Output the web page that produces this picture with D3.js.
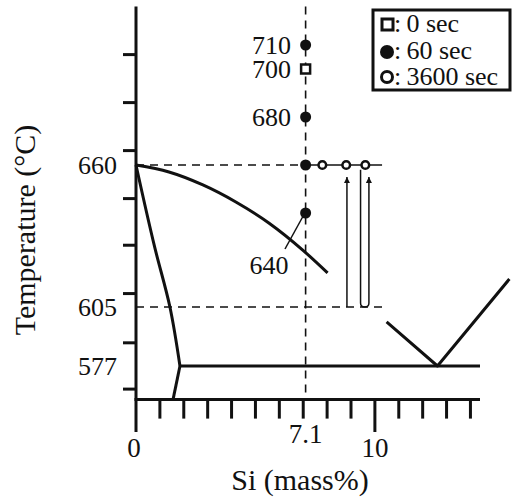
<!DOCTYPE html>
<meta charset="utf-8">
<script src="https://cdn.jsdelivr.net/npm/d3@7"></script>
<body style="margin:0;background:#fff">
<script>

// chart values
var xTicks = [0, 1, 2, 3, 4, 5, 6, 7, 8, 9, 10, 11, 12, 13, 14];
var xLongTicks = [0, 10];
var xLabels = [0, 7.1, 10];
var yTicks = [566, 588, 610, 628, 646, 666, 686, 706];
var alloySi = 7.1;
var liquidusAl = [[0, 660], [1.38, 657.1], [2.8, 651.7], [4.18, 644.6], [5.56, 636.3], [6.98, 626.2], [8.02, 617.7]];
var solidusAl = [[0, 660], [0.79, 627], [1.42, 605], [1.84, 577]];
var solvusAl = [[1.84, 577], [1.55, 561]];
var liquidusSi = [[10.49, 597.9], [12.62, 577], [15.63, 615.4]];
var eutectic = [[1.84, 577], [14.4, 577]];
var temps0 = [700];
var temps60 = [710, 680, 660, 640];
var si3600 = [7.8, 8.8, 9.6];   // shown at 660
var arrowUp = [8.83];
var arrowLoop = [9.4, 9.75];
var guide660 = [0, 7.1];
var guide605 = [0, 10.3];
var legendItems = ["0 sec", "60 sec", "3600 sec"];

var svg = d3.select("body").append("svg")
    .attr("width", 513)
    .attr("height", 498)
    .style("font-family", "'Liberation Serif','Times New Roman',serif");

var x = d3.scaleLinear().domain([0, 14.4]).range([136, 480]);
// schematic temperature axis (not to scale)
var y = d3.scaleLinear().domain([561, 577, 605, 640, 726]).range([399.6, 366, 307, 213, 6.6]);

var line = d3.line().x(function(d) { return x(d[0]); }).y(function(d) { return y(d[1]); });

svg.append("defs").append("marker")
    .attr("id", "arr").attr("viewBox", "0 0 10 10")
    .attr("refX", 10).attr("refY", 5)
    .attr("markerWidth", 10).attr("markerHeight", 6)
    .attr("markerUnits", "userSpaceOnUse")
    .attr("orient", "auto")
    .append("path").attr("d", "M0,0L10,5L0,10Z").attr("fill", "#111");

// dashed guides
var dash = svg.append("g").attr("stroke", "#111").attr("stroke-width", 1.6).attr("stroke-dasharray", "8,6").attr("fill", "none");
dash.append("line").attr("x1", x(alloySi)).attr("x2", x(alloySi)).attr("y1", y(726)).attr("y2", y(561));
dash.append("line").attr("x1", x(guide660[0])).attr("x2", x(guide660[1])).attr("y1", y(660)).attr("y2", y(660));
dash.append("line").attr("x1", x(guide605[0])).attr("x2", x(guide605[1])).attr("y1", y(605)).attr("y2", y(605));

// phase boundaries
var thick = svg.append("g").attr("stroke", "#111").attr("stroke-width", 3).attr("fill", "none").attr("stroke-linejoin", "round");
thick.append("path").attr("d", line.curve(d3.curveMonotoneX)(liquidusAl));
thick.append("path").attr("d", d3.line().x(function(d) { return x(d[0]); }).y(function(d) { return y(d[1]); }).curve(d3.curveMonotoneY)(solidusAl));
line.curve(d3.curveLinear);
thick.append("path").attr("d", line(solvusAl));
thick.append("path").attr("d", line(liquidusSi));
thick.append("path").attr("d", line(eutectic));

// axes
var ax = svg.append("g").attr("stroke", "#111").attr("stroke-width", 3);
ax.append("line").attr("x1", x(0)).attr("x2", x(0)).attr("y1", y(726)).attr("y2", 432);
ax.append("line").attr("x1", x(0) - 1.5).attr("x2", x(14.4)).attr("y1", y(561)).attr("y2", y(561));
ax.selectAll(".yt").data(yTicks).enter().append("line")
    .attr("x1", x(0) - 13).attr("x2", x(0)).attr("y1", y).attr("y2", y);
ax.selectAll(".xt").data(xTicks.filter(function(d) { return xLongTicks.indexOf(d) < 0; })).enter().append("line")
    .attr("x1", x).attr("x2", x).attr("y1", y(561)).attr("y2", y(561) + 19);
ax.selectAll(".xl").data(xLongTicks.slice(1)).enter().append("line")
    .attr("x1", x).attr("x2", x).attr("y1", y(561)).attr("y2", 432);

// 3600 s connector, arrows
var thin = svg.append("g").attr("stroke", "#111").attr("stroke-width", 1.5).attr("fill", "none");
thin.append("line").attr("x1", x(alloySi)).attr("x2", x(10.3)).attr("y1", y(660)).attr("y2", y(660));
arrowUp.forEach(function(s) {
  thin.append("line").attr("x1", x(s)).attr("x2", x(s)).attr("y1", y(605)).attr("y2", y(655))
      .attr("marker-end", "url(#arr)");
});
thin.append("path")
    .attr("d", "M" + x(arrowLoop[0]) + "," + y(658) + "V" + (y(605) - 4) +
         "Q" + x(arrowLoop[0]) + "," + y(605) + " " + ((x(arrowLoop[0]) + x(arrowLoop[1])) / 2) + "," + y(605) +
         "Q" + x(arrowLoop[1]) + "," + y(605) + " " + x(arrowLoop[1]) + "," + (y(605) - 4) +
         "V" + y(655))
    .attr("marker-end", "url(#arr)");
// leader to 640 label
thin.append("line").attr("x1", x(alloySi) - 3).attr("y1", y(640) + 4).attr("x2", 285).attr("y2", 249);

// markers
svg.selectAll(".p60").data(temps60).enter().append("circle")
    .attr("cx", x(alloySi)).attr("cy", y).attr("r", 5.5).attr("fill", "#111");
svg.selectAll(".p0").data(temps0).enter().append("rect")
    .attr("x", x(alloySi) - 4.5).attr("y", function(d) { return y(d) - 4.5; })
    .attr("width", 9).attr("height", 9).attr("fill", "#fff").attr("stroke", "#111").attr("stroke-width", 2.5);
svg.selectAll(".p3600").data(si3600).enter().append("circle")
    .attr("cx", x).attr("cy", y(660)).attr("r", 3.8).attr("fill", "#fff").attr("stroke", "#111").attr("stroke-width", 2.5);

// text
var txt = svg.append("g").attr("fill", "#111").attr("font-size", 26);
[710, 700, 680].forEach(function(t) {
  txt.append("text").attr("x", 291).attr("y", y(t)).attr("dy", "0.35em").attr("text-anchor", "end").text(t);
});
[660, 605, 577].forEach(function(t) {
  txt.append("text").attr("x", 117).attr("y", y(t)).attr("dy", "0.35em").attr("text-anchor", "end").text(t);
});
txt.append("text").attr("x", 269).attr("y", 274).attr("text-anchor", "middle").text(640);
txt.selectAll(".xlab").data(xLabels).enter().append("text")
    .attr("x", function(d) { return x(d) + (d === 0 ? -2 : 0); })
    .attr("y", function(d) { return d === 7.1 ? 443 : 457; })
    .attr("font-size", 27)
    .attr("text-anchor", "middle").text(String);

svg.append("text").attr("x", 300).attr("y", 490).attr("text-anchor", "middle")
    .attr("font-size", 30).attr("fill", "#111").text("Si (mass%)");
svg.append("text").attr("transform", "translate(35,230) rotate(-90)").attr("text-anchor", "middle")
    .attr("font-size", 30).attr("fill", "#111").text("Temperature  (\u00B0C)");

// legend
var lg = svg.append("g");
lg.append("rect").attr("x", 373).attr("y", 10).attr("width", 137).attr("height", 80)
    .attr("fill", "#fff").attr("stroke", "#111").attr("stroke-width", 3);
lg.append("rect").attr("x", 382).attr("y", 19).attr("width", 11).attr("height", 11)
    .attr("fill", "#fff").attr("stroke", "#111").attr("stroke-width", 3);
lg.append("circle").attr("cx", 387).attr("cy", 52).attr("r", 7).attr("fill", "#111");
lg.append("circle").attr("cx", 387).attr("cy", 77).attr("r", 5.5).attr("fill", "#fff").attr("stroke", "#111").attr("stroke-width", 3);
lg.selectAll(".lt").data(legendItems).enter().append("text")
    .attr("x", 394).attr("y", function(d, i) { return 32 + i * 26.5; })
    .attr("font-size", 26).attr("fill", "#111")
    .text(function(d) { return ":\u2009" + d; });

</script>
</body>
</html>
